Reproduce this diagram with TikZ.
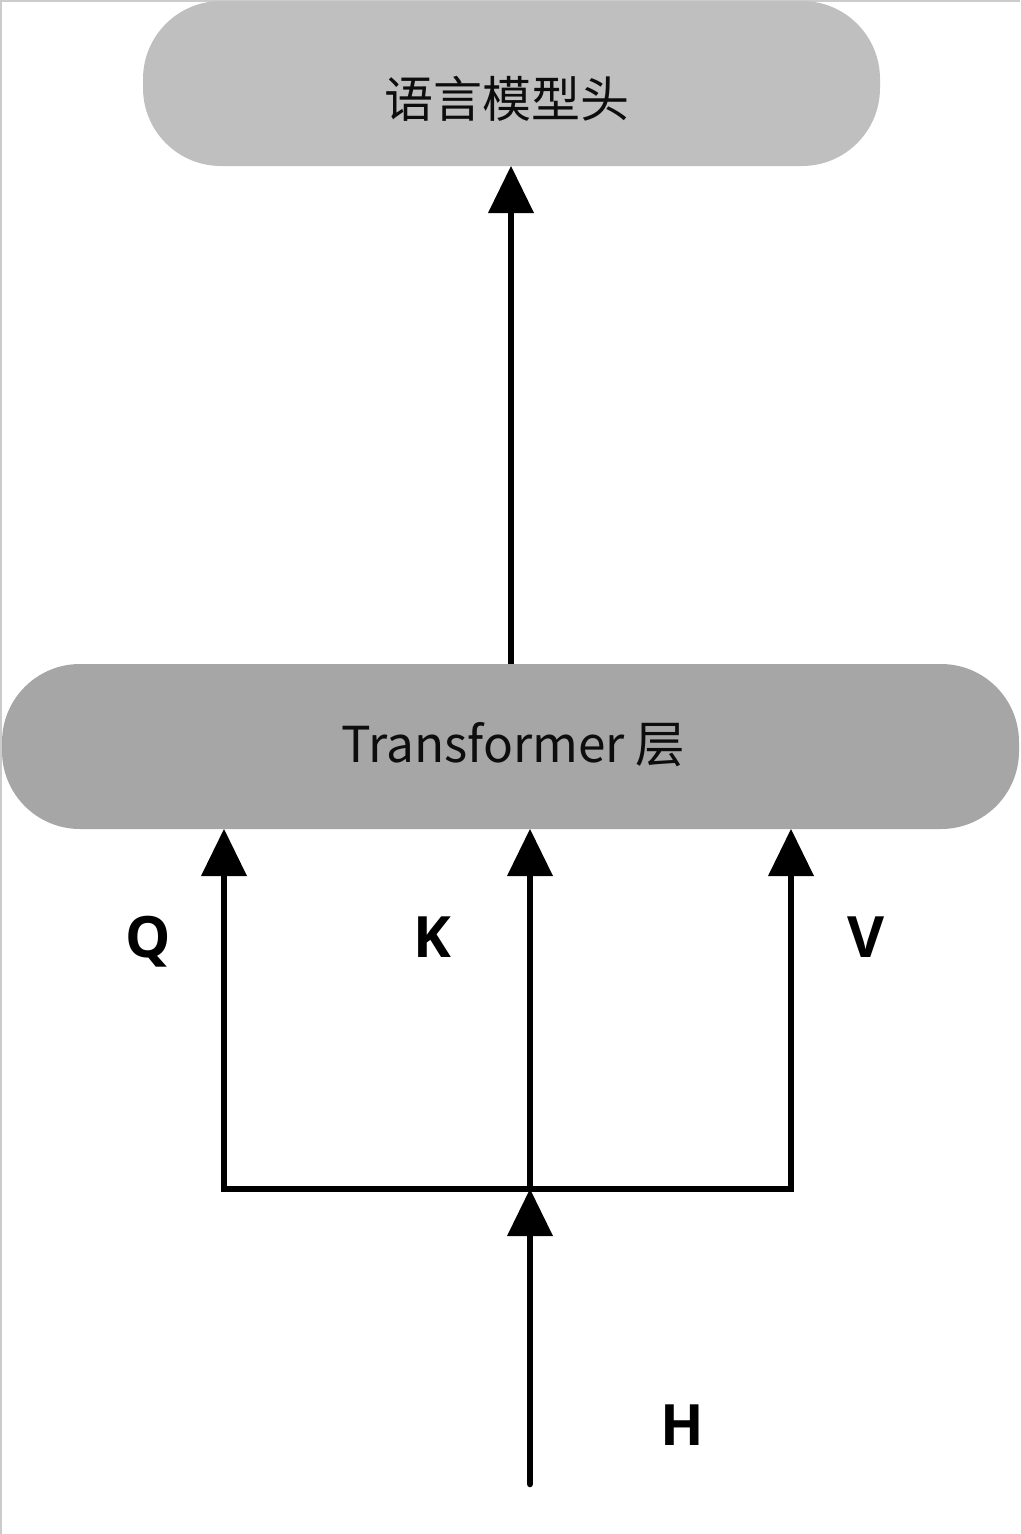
\documentclass[tikz,border=0pt]{standalone}
\usepackage{fontspec}
\usetikzlibrary{arrows.meta}
\newfontfamily\cjkfont{Noto Sans CJK SC}
\newfontfamily\lblfont{Open Sans}
\definecolor{headgray}{HTML}{BFBFBF}
\definecolor{transgray}{HTML}{A6A6A6}
\definecolor{txtcol}{HTML}{0D0D0D}
\tikzset{
  pill/.style={rounded corners=78pt, inner sep=0pt, draw=none},
  conn/.style={line width=6.5pt, draw=black},
  arr/.style={conn, -{Triangle[width=46pt,length=47pt,line width=0pt]}},
  lbl/.style={font=\lblfont\bfseries\fontsize{57pt}{63pt}\selectfont, text=black, anchor=base, inner sep=0pt},
  boxtxt/.style={text=txtcol, inner sep=0pt}
}
\begin{document}
\begin{tikzpicture}[x=1pt,y=-1pt]
\useasboundingbox (0,0) rectangle (1020,1534);
\fill[white] (0,0) rectangle (1020,1534);
\draw[line width=1.5pt, draw=black!20] (0.75,1534) -- (0.75,0.75) -- (1020,0.75);

% nodes
\node[pill, fill=headgray, minimum width=737pt, minimum height=165pt] (lmhead) at (511.5,83.5) {};
\node[boxtxt, font=\cjkfont\fontsize{49pt}{55pt}\selectfont] (lmtext) at (507,99) {语言模型头};
\node[pill, fill=transgray, minimum width=1017pt, minimum height=165pt] (trans) at (510.5,746.5) {};
\node[boxtxt, font=\cjkfont\fontsize{49.5pt}{56pt}\selectfont] (transtext) at (513.5,745) {Transformer 层};

% coordinates
\coordinate (jm) at (530,1189);
\coordinate (hs) at (530,1484);
\coordinate (qtip) at (224,829);
\coordinate (ktip) at (530,829);
\coordinate (vtip) at (791,829);
\coordinate (tstart) at (511,664);
\coordinate (ttip) at (511,166);

% connectors
\draw[arr] (tstart) -- (ttip);
\draw[arr] (jm) -| (qtip);
\draw[arr] (jm) -| (vtip);
\draw[arr] (jm) -- (ktip);
\draw[arr, line cap=round] (hs) -- (jm);

% labels
\node[lbl] (qlbl) at (148.5,957) {Q};
\node[lbl] (klbl) at (432.5,957) {K};
\node[lbl] (vlbl) at (866,957) {V};
\node[lbl] (hlbl) at (682,1445) {H};
\end{tikzpicture}
\end{document}
